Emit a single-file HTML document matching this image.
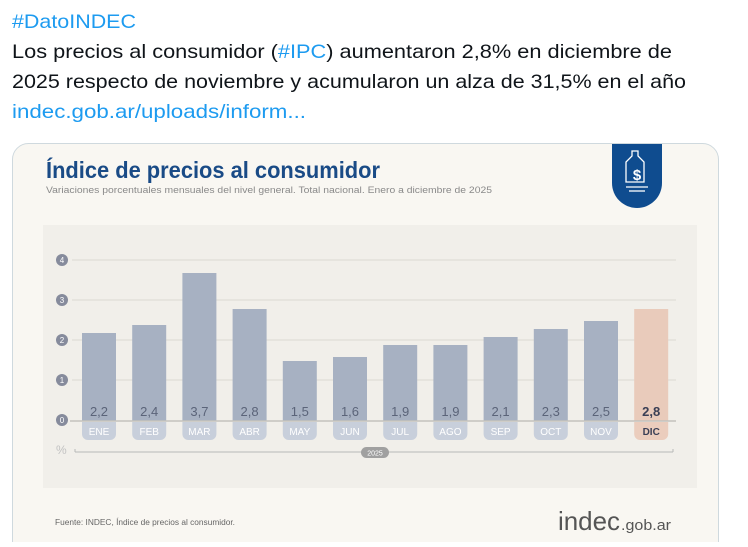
<!DOCTYPE html>
<html><head><meta charset="utf-8"><style>
body{margin:0;width:748px;height:542px;overflow:hidden;background:#fff;font-family:"Liberation Sans",sans-serif}
</style></head><body>
<svg width="748" height="542" xmlns="http://www.w3.org/2000/svg" font-family="Liberation Sans, sans-serif">
<text x="12" y="28" font-size="19.5" fill="#1d9bf0" textLength="124" lengthAdjust="spacingAndGlyphs">#DatoINDEC</text>
<text x="12" y="58" font-size="19.5" fill="#0f1419" textLength="660" lengthAdjust="spacingAndGlyphs">Los precios al consumidor (<tspan fill="#1d9bf0">#IPC</tspan>) aumentaron 2,8% en diciembre de</text>
<text x="12" y="88" font-size="19.5" fill="#0f1419" textLength="674" lengthAdjust="spacingAndGlyphs">2025 respecto de noviembre y acumularon un alza de 31,5% en el año</text>
<text x="12" y="118" font-size="19.5" fill="#1d9bf0" textLength="294" lengthAdjust="spacingAndGlyphs">indec.gob.ar/uploads/inform...</text>

<rect x="12.5" y="143.5" width="706" height="420" rx="16" fill="#f9f7f2" stroke="#cfd9de"/>
<text x="46" y="178" font-size="23" font-weight="bold" fill="#1a4b86" textLength="334" lengthAdjust="spacingAndGlyphs">Índice de precios al consumidor</text>
<text x="46" y="193" font-size="9" fill="#8a8a8a" textLength="446" lengthAdjust="spacingAndGlyphs">Variaciones porcentuales mensuales del nivel general. Total nacional. Enero a diciembre de 2025</text>
<path d="M612 144 H662 V183 A25 25 0 0 1 612 183 Z" fill="#0f4c8f"/>
<g stroke="#fff" stroke-width="1.3" fill="none">
<path d="M632 151 h6 v5 l6 6 v20 h-18 v-20 l6 -6z"/>
<line x1="626" y1="187" x2="648" y2="187"/><line x1="629" y1="191" x2="645" y2="191"/>
</g>
<text x="637" y="180" font-size="15" font-weight="bold" fill="#fff" text-anchor="middle">$</text>

<rect x="43" y="225" width="654" height="263" fill="#f1efea"/>
<g stroke="#dcd9d2" stroke-width="1">
<line x1="72" y1="260" x2="676" y2="260"/><line x1="72" y1="300" x2="676" y2="300"/>
<line x1="72" y1="340" x2="676" y2="340"/><line x1="72" y1="380" x2="676" y2="380"/>
</g>
<g font-size="8" fill="#fff" text-anchor="middle">
<circle cx="62" cy="260" r="6" fill="#868b9c"/><text x="62" y="263">4</text>
<circle cx="62" cy="300" r="6" fill="#868b9c"/><text x="62" y="303">3</text>
<circle cx="62" cy="340" r="6" fill="#868b9c"/><text x="62" y="343">2</text>
<circle cx="62" cy="380" r="6" fill="#868b9c"/><text x="62" y="383">1</text>
<circle cx="62" cy="420" r="6" fill="#868b9c"/><text x="62" y="423">0</text>
</g>
<g id="bars"></g>
<line x1="70" y1="421" x2="676" y2="421" stroke="#c4c2bc" stroke-width="1.5"/>
<text x="56" y="454" font-size="12" fill="#c2c2c2">%</text>
<line x1="75" y1="452" x2="673" y2="452" stroke="#b8b8b8"/>
<line x1="75" y1="449" x2="75" y2="452" stroke="#b8b8b8"/><line x1="673" y1="449" x2="673" y2="452" stroke="#b8b8b8"/>
<rect x="361" y="447" width="28" height="11" rx="5.5" fill="#a0a0a0"/>
<text x="375" y="455.5" font-size="7" fill="#fff" text-anchor="middle">2025</text>
<text x="55" y="525" font-size="8" fill="#666" textLength="180" lengthAdjust="spacingAndGlyphs">Fuente: INDEC, Índice de precios al consumidor.</text>
<text x="558" y="530" font-size="26" fill="#555" textLength="62" lengthAdjust="spacingAndGlyphs">indec</text>
<text x="621" y="530" font-size="15" fill="#555" textLength="50" lengthAdjust="spacingAndGlyphs">.gob.ar</text>
</svg>
<script>
var v=[2.2,2.4,3.7,2.8,1.5,1.6,1.9,1.9,2.1,2.3,2.5,2.8],m=["ENE","FEB","MAR","ABR","MAY","JUN","JUL","AGO","SEP","OCT","NOV","DIC"],s="";
for(var i=0;i<12;i++){var x=82+i*50.2,h=v[i]*40,d=i==11;
s+='<rect x="'+x+'" y="'+(421-h)+'" width="34" height="'+h+'" fill="'+(d?'#e9cbbb':'#a7b1c2')+'"/>';
s+='<text x="'+(x+17)+'" y="416" font-size="13" text-anchor="middle" fill="'+(d?'#3a3f55':'#5b6479')+'"'+(d?' font-weight="bold"':'')+'>'+String(v[i]).replace('.',',')+'</text>';
s+='<path d="M'+x+' 422 h34 v12 a6 6 0 0 1 -6 6 h-22 a6 6 0 0 1 -6 -6z" fill="'+(d?'#ebcdbd':'#c8cfdb')+'"/>';
s+='<text x="'+(x+17)+'" y="435" font-size="10" text-anchor="middle" fill="'+(d?'#3a3f55':'#fff')+'"'+(d?' font-weight="bold"':'')+'>'+m[i]+'</text>';}
document.getElementById("bars").innerHTML=s;
</script>
</body></html>
